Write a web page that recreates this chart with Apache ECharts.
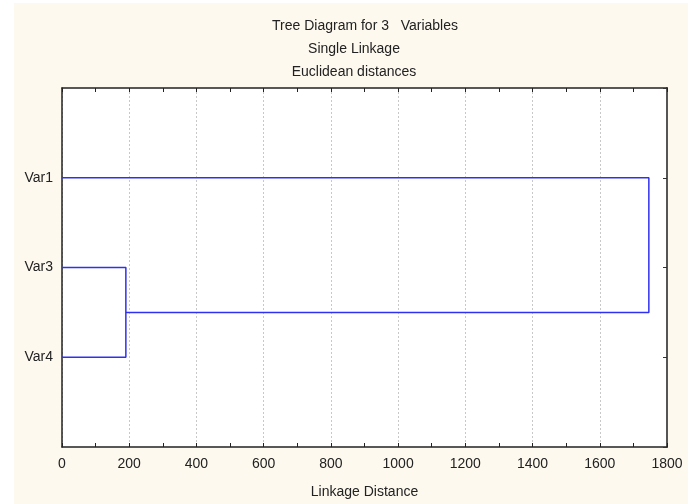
<!DOCTYPE html>
<html>
<head>
<meta charset="utf-8">
<script src="https://cdn.jsdelivr.net/npm/echarts@6/dist/echarts.min.js"></script>
<style>
html,body{margin:0;padding:0;background:#ffffff;}
#bg{position:absolute;left:14px;top:3px;width:674px;height:501px;background:#fdf9ef;}
#chart{position:absolute;left:0;top:0;width:697px;height:504px;}
</style>
</head>
<body>
<div id="bg"></div>
<div id="chart"></div>
<script>
// Data
const titleLines = ['Tree Diagram for 3   Variables', 'Single Linkage', 'Euclidean distances'];
const leaves = ['Var1', 'Var3', 'Var4'];
const linkagePairs = [['Var3', 'Var4'], ['Var1', 'C1']];
const linkageDistance = [190, 1746];
const xTicks = [0, 200, 400, 600, 800, 1000, 1200, 1400, 1600, 1800];
const xAxisName = 'Linkage Distance';

const n = leaves.length;
const nodes = {};
leaves.forEach((l, i) => { nodes[l] = { x: 0, y: n - i }; });
const segments = [];
linkagePairs.forEach((p, k) => {
  const a = nodes[p[0]], b = nodes[p[1]], h = linkageDistance[k];
  segments.push([[a.x, a.y], [h, a.y], [h, b.y], [b.x, b.y]]);
  nodes['C' + (k + 1)] = { x: h, y: (a.y + b.y) / 2 };
});

const font = 'Liberation Sans, Arial, sans-serif';
const chart = echarts.init(document.getElementById('chart'), null, { renderer: 'canvas' });
const xMin = xTicks[0], xMax = xTicks[xTicks.length - 1], xInt = xTicks[1] - xTicks[0];
const baseX = {
  type: 'value', min: xMin, max: xMax, interval: xInt,
  axisTick: { show: true, inside: true, length: 4, lineStyle: { color: '#222', width: 1 } },
  minorTick: { show: true, splitNumber: 2, length: 4, lineStyle: { color: '#222', width: 1 } },
};
chart.setOption({
  animation: false,
  backgroundColor: 'transparent',
  title: [
    { text: titleLines[0], left: 360, top: 14, textAlign: 'center', textStyle: { fontFamily: font, fontSize: 14, fontWeight: 'normal', color: '#222' } },
    { text: titleLines[1], left: 349, top: 37, textAlign: 'center', textStyle: { fontFamily: font, fontSize: 14, fontWeight: 'normal', color: '#222' } },
    { text: titleLines[2], left: 349, top: 60, textAlign: 'center', textStyle: { fontFamily: font, fontSize: 14, fontWeight: 'normal', color: '#222' } }
  ],
  grid: { left: 62, right: 30, top: 88, bottom: 54, show: true, backgroundColor: '#ffffff', borderWidth: 0 },
  xAxis: [
    Object.assign({}, baseX, {
      position: 'bottom',
      axisLine: { show: true, onZero: false, lineStyle: { color: '#222', width: 1.5 } },
      axisLabel: { show: true, fontFamily: font, fontSize: 14, color: '#222', margin: 10, formatter: v => String(v) },
      splitLine: { show: true, lineStyle: { color: '#c8c8c8', type: [2, 2], width: 1 } },
      name: xAxisName, nameLocation: 'middle', nameGap: 38,
      nameTextStyle: { fontFamily: font, fontSize: 14, color: '#222' }
    }),
    Object.assign({}, baseX, {
      position: 'top',
      axisLine: { show: true, onZero: false, lineStyle: { color: '#222', width: 1.5 } },
      axisLabel: { show: false },
      splitLine: { show: false }
    })
  ],
  yAxis: [
    {
      type: 'value', min: 0, max: n + 1, interval: 1, position: 'left',
      axisLine: { show: true, onZero: false, lineStyle: { color: '#222', width: 1.5 } },
      axisTick: { show: false },
      splitLine: { show: false },
      axisLabel: {
        show: true, fontFamily: font, fontSize: 14, color: '#222', margin: 9,
        formatter: v => (v >= 1 && v <= n) ? leaves[n - v] : ''
      }
    },
    {
      type: 'value', min: 0, max: n + 1, interval: 1, position: 'right',
      axisLine: { show: true, onZero: false, lineStyle: { color: '#555', width: 2 } },
      axisTick: { show: true, inside: true, length: 4, lineStyle: { color: '#333' } },
      splitLine: { show: false },
      axisLabel: { show: false }
    }
  ],
  series: segments.map(s => ({
    type: 'line', data: s, xAxisIndex: 0, yAxisIndex: 0,
    symbol: 'none', silent: true,
    lineStyle: { color: '#3030f0', width: 1.5 }
  }))
});
</script>
</body>
</html>
